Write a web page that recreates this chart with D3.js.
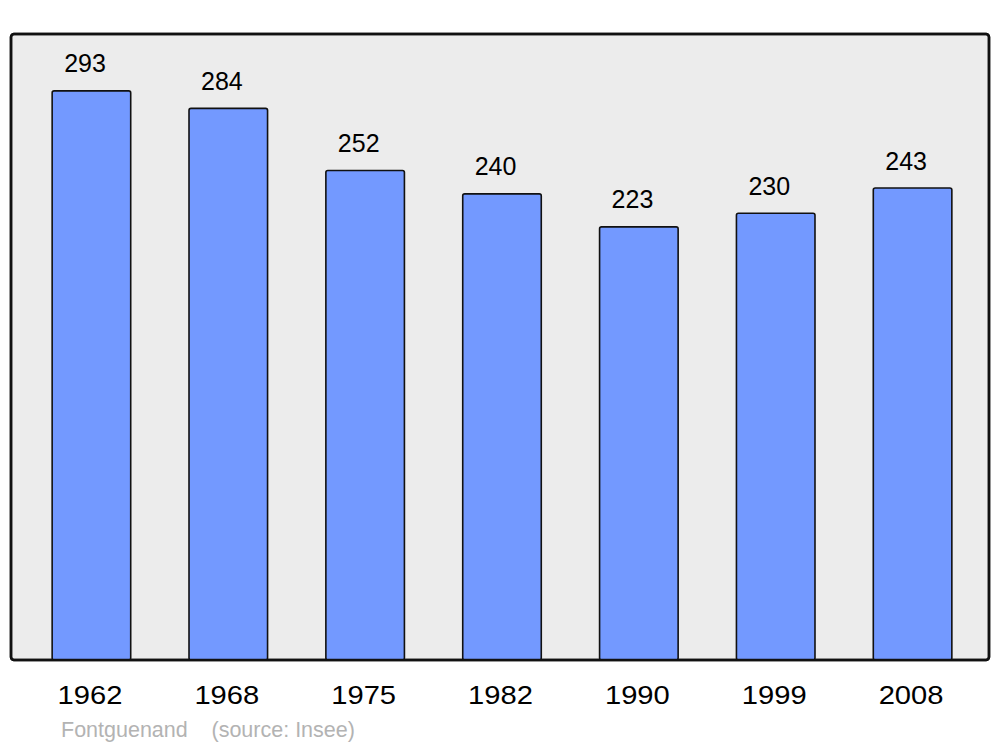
<!DOCTYPE html>
<html>
<head>
<meta charset="utf-8">
<script src="https://cdn.jsdelivr.net/npm/d3@7"></script>
<style>
  html, body { margin: 0; padding: 0; background: #ffffff; }
  svg { display: block; }
  text { font-family: "Liberation Sans", Arial, sans-serif; }
</style>
</head>
<body>
<script>
const years = ["1962", "1968", "1975", "1982", "1990", "1999", "2008"];
const population = [293, 284, 252, 240, 223, 230, 243];
const commune = "Fontguenand";
const sourceLabel = "(source: Insee)";

const W = 1000, H = 747;
const panel = { x0: 11, y0: 34, x1: 989, y1: 660 };

const svg = d3.select("body").append("svg")
  .attr("width", W).attr("height", H);

svg.append("rect")
  .attr("x", panel.x0).attr("y", panel.y0)
  .attr("width", panel.x1 - panel.x0).attr("height", panel.y1 - panel.y0)
  .attr("rx", 3).attr("ry", 3)
  .attr("fill", "#ececec")
  .attr("stroke", "#111").attr("stroke-width", 2.5);

const x = d3.scaleBand()
  .domain(years)
  .range([23, 981])
  .paddingInner(0.426)
  .paddingOuter(0.213);

const y = d3.scaleLinear()
  .domain([0, 322.3])
  .range([panel.y1, panel.y0]);

const data = years.map((yr, i) => ({ year: yr, value: population[i] }));

svg.append("g").selectAll("rect")
  .data(data)
  .join("rect")
  .attr("x", d => x(d.year))
  .attr("y", d => y(d.value))
  .attr("width", x.bandwidth())
  .attr("height", d => y(0) - y(d.value))
  .attr("rx", 2).attr("ry", 2)
  .attr("fill", "#7399ff")
  .attr("stroke", "#111").attr("stroke-width", 1.6);

// panel outline redrawn over bar bottoms
svg.append("rect")
  .attr("x", panel.x0).attr("y", panel.y0)
  .attr("width", panel.x1 - panel.x0).attr("height", panel.y1 - panel.y0)
  .attr("rx", 3).attr("ry", 3)
  .attr("fill", "none")
  .attr("stroke", "#111").attr("stroke-width", 2.5);

svg.append("g").selectAll("text")
  .data(data)
  .join("text")
  .attr("x", d => x(d.year) + 12)
  .attr("y", d => y(d.value) - 18.5)
  .attr("font-size", 25)
  .attr("fill", "#000")
  .text(d => d.value);

svg.append("g").selectAll("text")
  .data(data)
  .join("text")
  .attr("transform", d => `translate(${x(d.year) + x.bandwidth() / 2 - 1.5},704) scale(1.1,1)`)
  .attr("text-anchor", "middle")
  .attr("font-size", 26.5)
  .attr("fill", "#000")
  .text(d => d.year);

svg.append("text")
  .attr("x", 61).attr("y", 737)
  .attr("font-size", 21.5)
  .attr("fill", "#b3b3b3")
  .text(commune);

svg.append("text")
  .attr("x", 211.5).attr("y", 737)
  .attr("font-size", 21.5)
  .attr("fill", "#b3b3b3")
  .text(sourceLabel);
</script>
</body>
</html>
